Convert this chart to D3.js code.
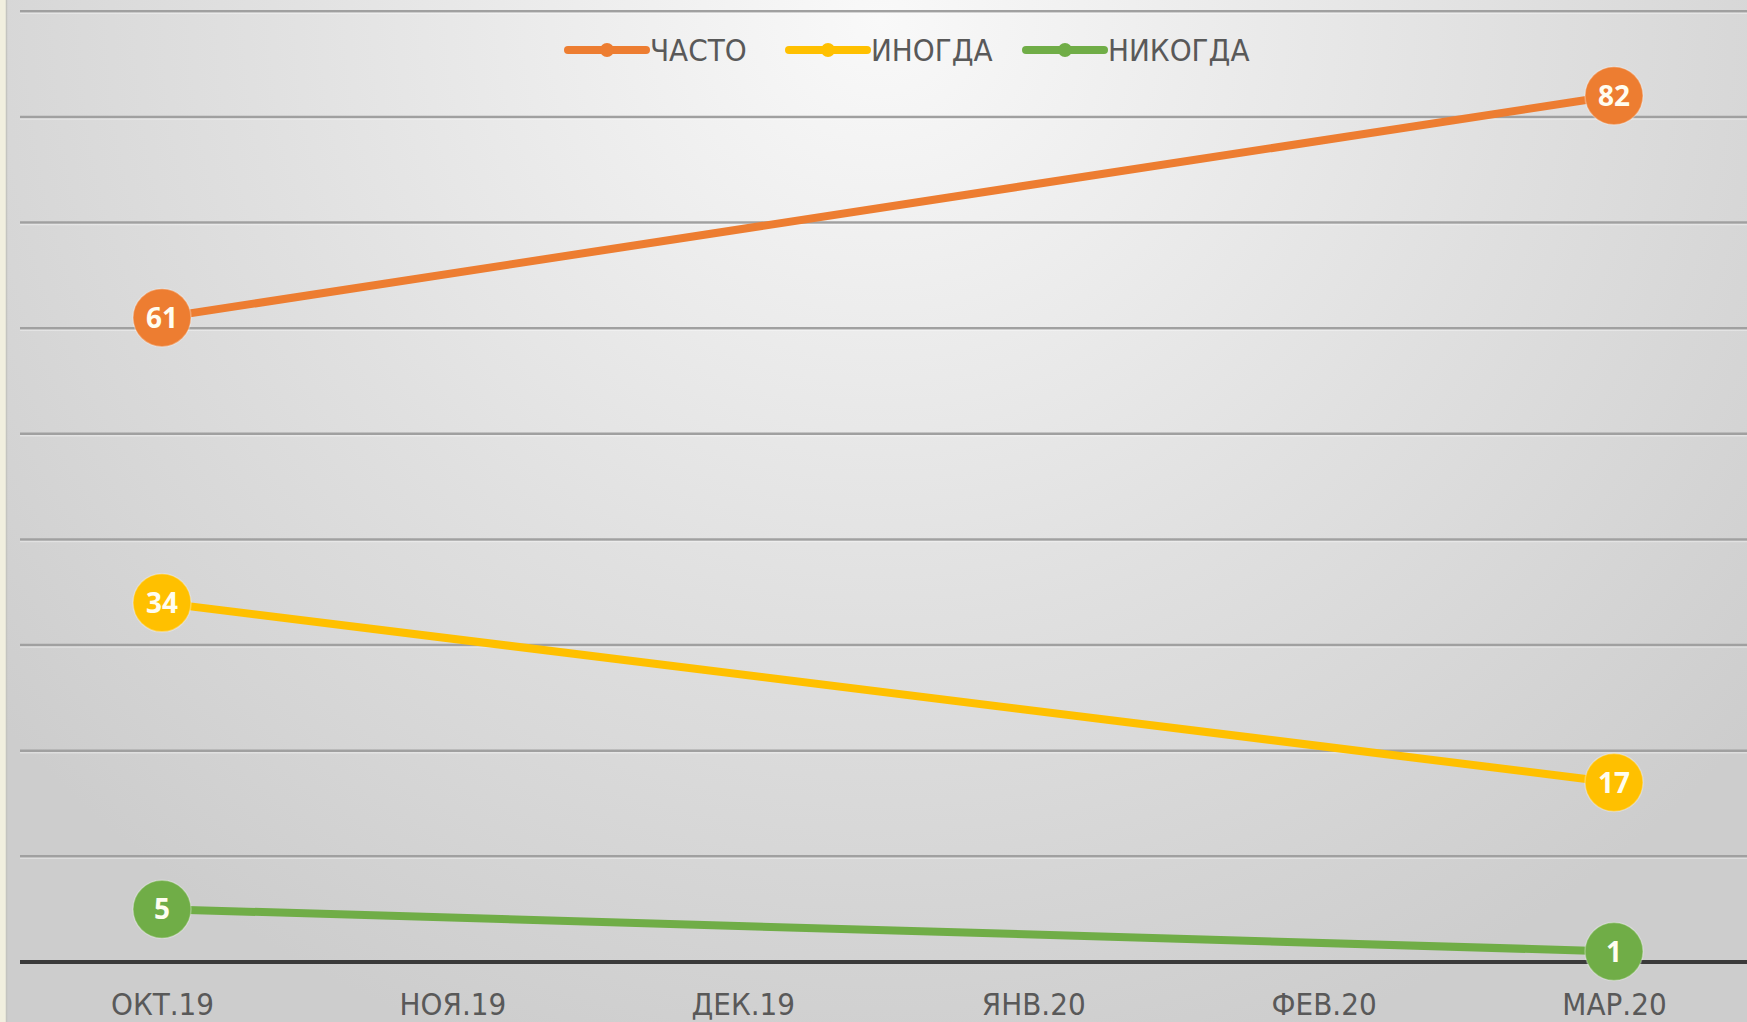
<!DOCTYPE html>
<html><head><meta charset="utf-8">
<script src="https://cdn.jsdelivr.net/npm/d3@7"></script>
<style>
html,body{margin:0;padding:0;background:#f1efdf;}
svg{display:block;}
</style></head>
<body>
<svg id="c" width="1747" height="1022"></svg>
<script>
const categories = ["ОКТ.19","НОЯ.19","ДЕК.19","ЯНВ.20","ФЕВ.20","МАР.20"];
const seriesNames = ["ЧАСТО","ИНОГДА","НИКОГДА"];
const oftenValues = [61, null, null, null, null, 82];
const sometimesValues = [34, null, null, null, null, 17];
const neverValues = [5, null, null, null, null, 1];
const yTicks = [0,10,20,30,40,50,60,70,80,90];
const seriesColors = ["#ED7D31","#FFC000","#70AD47"];

const W = 1747, H = 1022;
const svg = d3.select("#c");
const FONT = "'Liberation Sans Narrow','DejaVu Sans Condensed','Liberation Sans',sans-serif";

const defs = svg.append("defs");
const rg = defs.append("radialGradient").attr("id","bg")
  .attr("gradientUnits","userSpaceOnUse").attr("cx",880).attr("cy",20).attr("r",1150)
  .attr("gradientTransform","translate(880,20) scale(1,0.95) translate(-880,-20)");
rg.append("stop").attr("offset","0").attr("stop-color","#f9f9f9");
rg.append("stop").attr("offset","0.55").attr("stop-color","#e0e0e0");
rg.append("stop").attr("offset","1").attr("stop-color","#cdcdcd");

svg.append("rect").attr("x",0).attr("y",0).attr("width",W).attr("height",H).attr("fill","#f1efdf");
svg.append("rect").attr("x",6).attr("y",0).attr("width",W-6).attr("height",H).attr("fill","url(#bg)");
svg.append("line").attr("x1",6.5).attr("x2",6.5).attr("y1",0).attr("y2",H).attr("stroke","#c4c4c0").attr("stroke-width",1.5);

const x = d3.scalePoint().domain(categories).range([162, 1614]);
const y = d3.scaleLinear().domain([0,90]).range([962, 11.3]);

const grid = svg.append("g");
grid.selectAll("line.g").data(yTicks.filter(d=>d>0)).join("line")
  .attr("x1",20).attr("x2",W).attr("y1",d=>y(d)).attr("y2",d=>y(d))
  .attr("stroke","#a0a0a0").attr("stroke-width",2.5);
grid.selectAll("line.s").data(yTicks.filter(d=>d>0)).join("line")
  .attr("x1",20).attr("x2",W).attr("y1",d=>y(d)+2).attr("y2",d=>y(d)+2)
  .attr("stroke","#ffffff").attr("stroke-opacity",0.35).attr("stroke-width",1.5);

const xAxis = d3.axisBottom(x).tickSize(0).tickPadding(31);
const gx = svg.append("g").attr("transform",`translate(0,${y(0)})`).call(xAxis);
gx.select(".domain").remove();
gx.append("line").attr("x1",20).attr("x2",W).attr("y1",0).attr("y2",0)
  .attr("stroke","#3a3a3a").attr("stroke-width",4);
gx.selectAll(".tick text").attr("font-family",FONT).attr("font-size",31)
  .attr("fill","#595959").attr("dy","0.71em");

const series = [oftenValues, sometimesValues, neverValues].map((vals,i)=>({
  name: seriesNames[i], color: seriesColors[i],
  pts: categories.map((c,j)=>({c, v: vals[j]})).filter(p=>p.v!=null)
}));
const line = d3.line().x(p=>x(p.c)).y(p=>y(p.v));
const sg = svg.append("g").selectAll("g").data(series).join("g");
sg.append("path").attr("d",d=>line(d.pts)).attr("fill","none")
  .attr("stroke",d=>d.color).attr("stroke-width",8).attr("stroke-linecap","round");
sg.each(function(d){
  const g = d3.select(this);
  g.selectAll("circle").data(d.pts).join("circle")
    .attr("cx",p=>x(p.c)).attr("cy",p=>y(p.v)).attr("r",29)
    .attr("fill",d.color).attr("stroke","#ffffff").attr("stroke-opacity",0.3).attr("stroke-width",1.5);
  g.selectAll("text").data(d.pts).join("text")
    .attr("x",p=>x(p.c)).attr("y",p=>y(p.v)).attr("dy","0.36em")
    .attr("text-anchor","middle").attr("font-family","'Open Sans','Noto Sans',sans-serif")
    .attr("font-weight","bold").attr("font-size",28).attr("fill","#fffdf0")
    .text(p=>p.v);
});

const legX = [568, 789, 1026];
const lg = svg.append("g").selectAll("g").data(series).join("g")
  .attr("transform",(d,i)=>`translate(${legX[i]},50)`);
lg.append("line").attr("x1",0).attr("x2",78).attr("y1",0).attr("y2",0)
  .attr("stroke",d=>d.color).attr("stroke-width",8).attr("stroke-linecap","round");
lg.append("circle").attr("cx",39).attr("cy",0).attr("r",7).attr("fill",d=>d.color);
lg.append("text").attr("x",82).attr("y",0).attr("dy","0.36em")
  .attr("font-family",FONT).attr("font-size",31).attr("fill","#595959")
  .text(d=>d.name);
</script>
</body></html>
